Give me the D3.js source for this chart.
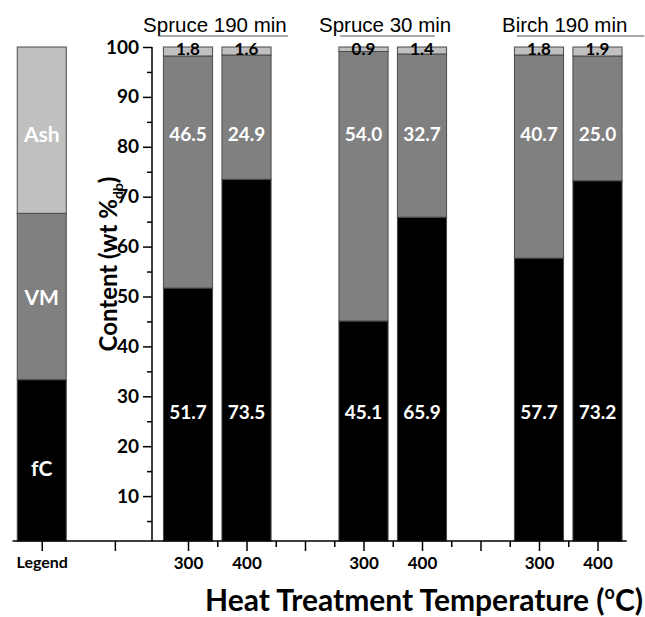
<!DOCTYPE html>
<html>
<head>
<meta charset="utf-8">
<script src="https://cdn.jsdelivr.net/npm/d3@7"></script>
<style>
    body { margin: 0; background: #fff; }
    svg { display: block; }
</style>
</head>
<body>
<div id="chart"></div>
<script>
// Data
const groups = ["Spruce 190 min", "Spruce 30 min", "Birch 190 min"];
const temps = ["300", "400"];
const fcValues = [51.7, 73.5, 45.1, 65.9, 57.7, 73.2];
const vmValues = [46.5, 24.9, 54.0, 32.7, 40.7, 25.0];
const ashValues = [1.8, 1.6, 0.9, 1.4, 1.8, 1.9];
const legendItems = ["fC", "VM", "Ash"];
const yTickValues = [10, 20, 30, 40, 50, 60, 70, 80, 90, 100];

// Layout (x in category units)
const barPos = [1, 2, 4, 5, 7, 8];
const legendPos = -1.5;
const extraTickPos = -0.25;
const titlePos = [1.46, 4.37, 7.44];
const linePos = [[0.49, 2.71], [3.6, 5.22], [6.62, 8.8]];

const colors = { fC: "#000000", VM: "#808080", Ash: "#c0c0c0" };
const labelFont = "Lato, 'Open Sans', sans-serif";

const svgWidth = 645;
const svgHeight = 617;

const svg = d3.select("#chart")
    .append("svg")
    .attr("width", svgWidth)
    .attr("height", svgHeight);

const x = d3.scaleLinear().domain([-2, 8.5]).range([12.5, 626.75]);
const y = d3.scaleLinear().domain([1, 100]).range([541, 47]).clamp(true);
const barW = 0.84 * (x(1) - x(0));
const yAxisX = 152;

// Build stacked rows
const rows = barPos.map((p, i) => ({
    pos: p,
    temp: temps[i % 2],
    segs: [
        { key: "fC", lo: 0, hi: fcValues[i], v: fcValues[i] },
        { key: "VM", lo: fcValues[i], hi: fcValues[i] + vmValues[i], v: vmValues[i] },
        { key: "Ash", lo: fcValues[i] + vmValues[i], hi: fcValues[i] + vmValues[i] + ashValues[i], v: ashValues[i] }
    ]
}));

// Bars
const barG = svg.append("g");
rows.forEach(r => {
    barG.selectAll(null)
        .data(r.segs)
        .enter()
        .append("rect")
        .attr("x", x(r.pos) - barW / 2)
        .attr("y", d => y(d.hi))
        .attr("width", barW)
        .attr("height", d => y(d.lo) - y(d.hi))
        .attr("fill", d => colors[d.key])
        .attr("stroke", "#4a4a4a")
        .attr("stroke-width", 1);
});

// Bar value labels
rows.forEach(r => {
    const cx = x(r.pos);
    svg.append("text")
        .attr("x", cx).attr("y", y(27))
        .attr("text-anchor", "middle").attr("dominant-baseline", "central")
        .attr("fill", "#fff").attr("font-family", labelFont).attr("font-weight", "bold")
        .attr("font-size", 19)
        .text(r.segs[0].v.toFixed(1));
    svg.append("text")
        .attr("x", cx).attr("y", y(82.7))
        .attr("text-anchor", "middle").attr("dominant-baseline", "central")
        .attr("fill", "#fff").attr("font-family", labelFont).attr("font-weight", "bold")
        .attr("font-size", 19)
        .text(r.segs[1].v.toFixed(1));
    svg.append("text")
        .attr("x", cx).attr("y", y(99.6))
        .attr("text-anchor", "middle").attr("dominant-baseline", "central")
        .attr("fill", "#000").attr("font-family", labelFont).attr("font-weight", "bold")
        .attr("font-size", 17)
        .text(r.segs[2].v.toFixed(1));
});

// Legend bar
const legW = 49;
const legendSegs = legendItems.map((k, i) => ({ key: k, lo: i * 100 / 3, hi: (i + 1) * 100 / 3 }));
svg.append("g").selectAll("rect")
    .data(legendSegs)
    .enter()
    .append("rect")
    .attr("x", x(legendPos) - legW / 2)
    .attr("y", d => y(d.hi))
    .attr("width", legW)
    .attr("height", d => y(d.lo) - y(d.hi))
    .attr("fill", d => colors[d.key])
    .attr("stroke", "#4a4a4a")
    .attr("stroke-width", 1);

const legendLabelY = { fC: 15.8, VM: 50, Ash: 82.7 };
svg.append("g").selectAll("text")
    .data(legendSegs)
    .enter()
    .append("text")
    .attr("x", x(legendPos))
    .attr("y", d => y(legendLabelY[d.key]))
    .attr("text-anchor", "middle").attr("dominant-baseline", "central")
    .attr("fill", "#fff").attr("font-family", labelFont).attr("font-weight", "bold")
    .attr("font-size", 21)
    .text(d => d.key);

// Y axis
const yAxisG = svg.append("g").attr("transform", `translate(${yAxisX},0)`);
yAxisG.call(d3.axisLeft(y).tickValues(yTickValues).tickSize(9).tickPadding(4));
yAxisG.append("g")
    .call(d3.axisLeft(y).tickValues(d3.range(5, 100, 10)).tickSize(5).tickFormat(""));
yAxisG.selectAll(".domain").attr("stroke", "#000").attr("stroke-width", 1.5);
yAxisG.selectAll(".tick line").attr("stroke", "#000").attr("stroke-width", 1.5);
yAxisG.selectAll(".tick text")
    .attr("font-family", labelFont).attr("font-weight", "bold")
    .attr("font-size", 19).attr("fill", "#000");
yAxisG.selectAll("g g .domain").remove();
yAxisG.select(".domain").attr("d", `M0,${y(100)}V${y(1)}`);

// X axis
const xAxisG = svg.append("g").attr("transform", `translate(0,${y(1)})`);
const xMajor = [legendPos, extraTickPos].concat(barPos, [3, 6]);
const xLabels = new Map([[legendPos, "Legend"]]);
barPos.forEach((p, i) => xLabels.set(p, temps[i % 2]));
xAxisG.call(d3.axisBottom(x).tickValues(xMajor).tickSize(10).tickPadding(6)
    .tickFormat(d => xLabels.get(d) || ""));
xAxisG.append("g")
    .call(d3.axisBottom(x).tickValues(d3.range(1.5, 8, 1)).tickSize(6).tickFormat(""));
xAxisG.selectAll("g g .domain").remove();
xAxisG.select(".domain").attr("d", `M${x(-2)},0H${x(8.5)}`)
    .attr("stroke", "#000").attr("stroke-width", 1.5);
xAxisG.selectAll(".tick line").attr("stroke", "#000").attr("stroke-width", 1.5);
xAxisG.selectAll(".tick text")
    .attr("font-family", labelFont).attr("font-weight", "bold")
    .attr("font-size", 17).attr("fill", "#000");
xAxisG.selectAll(".tick text").filter(d => d === legendPos).attr("font-size", 16);

// Group titles
groups.forEach((g, i) => {
    svg.append("text")
        .attr("x", x(titlePos[i])).attr("y", 32)
        .attr("text-anchor", "middle")
        .attr("font-family", "'Liberation Sans', Arial, sans-serif")
        .attr("font-size", 20.5).attr("fill", "#000")
        .text(g);
    svg.append("line")
        .attr("x1", x(linePos[i][0])).attr("x2", x(linePos[i][1]))
        .attr("y1", 36).attr("y2", 36)
        .attr("stroke", "#555").attr("stroke-width", 1.2);
});

// Axis titles
const xTitle = svg.append("text")
    .attr("x", 424).attr("y", 611)
    .attr("text-anchor", "middle")
    .attr("font-family", labelFont).attr("font-weight", "bold")
    .attr("font-size", 30).attr("fill", "#000");
xTitle.append("tspan").text("Heat Treatment Temperature (");
xTitle.append("tspan").attr("font-size", 18).attr("dy", -12).text("o");
xTitle.append("tspan").attr("dy", 12).text("C)");

const yTitle = svg.append("text")
    .attr("transform", "translate(117,264) rotate(-90)")
    .attr("text-anchor", "middle")
    .attr("font-family", labelFont).attr("font-weight", "bold")
    .attr("font-size", 24).attr("fill", "#000");
yTitle.append("tspan").text("Content (wt %");
yTitle.append("tspan").attr("font-size", 14).attr("dy", 6).text("db");
yTitle.append("tspan").attr("dy", -6).text(")");
</script>
</body>
</html>
